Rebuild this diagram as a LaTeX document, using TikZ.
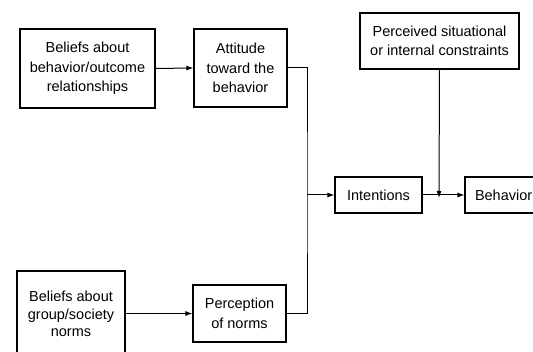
\documentclass[tikz,border=0pt]{standalone}
\usepackage{fontspec}
\setmainfont{Liberation Sans}
\usetikzlibrary{arrows.meta}
\begin{document}
\begin{tikzpicture}[x=1pt,y=-1pt,
  box/.style={draw=black,line width=1.1pt,rectangle,align=center,inner sep=0pt,
    font=\fontsize{14.5}{19.5}\selectfont},
  conn/.style={draw=black,line width=1pt},
  arr/.style={conn,-{Latex[length=7pt,width=5pt]}}]
\useasboundingbox (0,0) rectangle (533,352);
\node[box,minimum width=135pt,minimum height=79pt] (b1) at (87.5,68.5) {Beliefs about\\behavior/outcome\\relationships};
\node[box,minimum width=93pt,minimum height=78pt] (b2) at (240.5,68) {Attitude\\toward the\\behavior};
\node[box,minimum width=159pt,minimum height=56pt] (b3) at (439.5,41) {Perceived situational\\or internal constraints};
\node[box,minimum width=87pt,minimum height=36pt] (int) at (378.5,195) {Intentions};
\node[box,minimum width=80pt,minimum height=36pt,text width=60pt,align=left] (beh) at (505,195) {Behavior};
\node[box,minimum width=108pt,minimum height=86pt,font=\fontsize{14.5}{17.5}\selectfont] (b4) at (71,314) {Beliefs about\\group/society\\norms};
\node[box,minimum width=93pt,minimum height=57pt] (b5) at (239.5,313.5) {Perception\\of norms};
\coordinate (jx) at (307,195);
\coordinate (cx) at (439,195);
\draw[arr] (b1.east) -- (b2.west);
\draw[conn] (b2.east) -| (jx) |- (b5.east);
\draw[arr] (jx) -- (int.west);
\draw[arr] (b4.east |- b5.west) -- (b5.west);
\draw[arr] (int.east) -- (beh.west);
\draw[arr] (b3.south) -- ([yshift=-3pt]cx);
\end{tikzpicture}
\end{document}
